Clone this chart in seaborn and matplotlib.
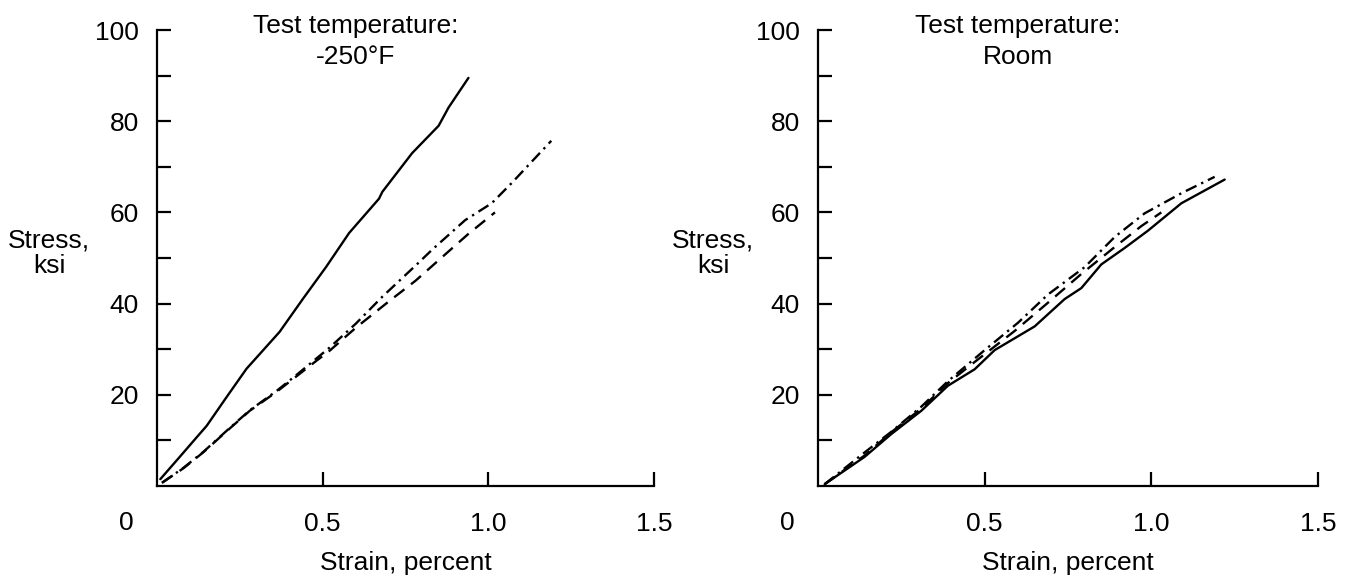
import matplotlib
matplotlib.use("Agg")
import matplotlib.pyplot as plt
import seaborn as sns

# stress-strain curves (strain in percent, stress in ksi)
cold_solid_strain = [0.01, 0.07, 0.12, 0.15, 0.21, 0.27, 0.37, 0.44, 0.51, 0.58, 0.67, 0.68, 0.77, 0.85, 0.88, 0.94]
cold_solid_stress = [1.5, 6.5, 10.7, 13.2, 19.5, 25.7, 33.8, 41.0, 48.0, 55.5, 63.0, 64.5, 73.0, 79.0, 83.0, 89.5]

cold_dash_strain = [0.015, 0.08, 0.14, 0.21, 0.28, 0.36, 0.42, 0.48, 0.52, 0.60, 0.70, 0.78, 0.87, 0.94, 1.02]
cold_dash_stress = [0.7, 3.9, 7.4, 12.0, 16.5, 20.6, 24.0, 27.4, 29.6, 34.7, 40.5, 45.0, 50.8, 55.3, 60.0]

cold_dashdot_strain = [0.015, 0.08, 0.14, 0.21, 0.28, 0.36, 0.42, 0.48, 0.52, 0.60, 0.68, 0.79, 0.83, 0.93, 1.01, 1.07, 1.19]
cold_dashdot_stress = [0.7, 4.0, 7.5, 12.1, 16.6, 20.8, 24.3, 27.9, 30.3, 35.6, 41.5, 49.0, 51.8, 58.3, 62.0, 66.4, 75.7]

room_solid_strain = [0.02, 0.14, 0.22, 0.31, 0.39, 0.47, 0.53, 0.59, 0.65, 0.74, 0.79, 0.85, 0.92, 0.99, 1.09, 1.22]
room_solid_stress = [0.4, 6.4, 11.4, 16.5, 22.0, 25.6, 29.8, 32.4, 35.0, 41.0, 43.4, 48.6, 52.2, 56.0, 62.0, 67.2]

room_dash_strain = [0.02, 0.14, 0.22, 0.31, 0.39, 0.47, 0.59, 0.69, 0.79, 0.89, 0.97, 1.03]
room_dash_stress = [0.4, 6.7, 11.8, 17.0, 22.6, 27.2, 34.0, 40.2, 46.5, 52.4, 57.0, 60.0]

room_dashdot_strain = [0.02, 0.13, 0.22, 0.31, 0.39, 0.50, 0.60, 0.69, 0.80, 0.89, 0.98, 1.09, 1.19]
room_dashdot_stress = [0.4, 6.8, 11.9, 17.4, 23.0, 29.8, 35.8, 42.0, 48.0, 54.6, 59.8, 64.2, 67.8]

titles = ["Test temperature:\n-250\u00b0F", "Test temperature:\nRoom"]
x_ticks = [0.5, 1.0, 1.5]
x_tick_labels = ["0.5", "1.0", "1.5"]
y_major = [20, 40, 60, 80, 100]
y_minor = [10, 30, 50, 70, 90]

SOLID = "-"
DASHED = (0, (5.5, 3.5))
DASHDOT = (0, (5, 2.2, 1, 2.2))

sns.set_style("ticks")
plt.rcParams['font.family'] = ['Liberation Sans', 'DejaVu Sans']
for key in ["text.color", "axes.labelcolor", "xtick.color", "ytick.color", "axes.edgecolor"]:
    plt.rcParams[key] = "black"
FS = 19

W, H = 1349, 578
fig = plt.figure(figsize=(W / 100, H / 100), dpi=100)
ax1 = fig.add_axes([157 / W, 1 - 486 / H, (654 - 157) / W, (486 - 30) / H])
ax2 = fig.add_axes([818 / W, 1 - 486 / H, (1318 - 818) / W, (486 - 30) / H])


def panel(ax, curves, title, ylab_x):
    for x, y, ls in curves:
        sns.lineplot(x=x, y=y, ax=ax, color="black", lw=1.7, linestyle=ls,
                     sort=False, estimator=None)
    ax.set_xlim(0, 1.5)
    ax.set_ylim(0, 100)
    sns.despine(ax=ax)
    for s in ["left", "bottom"]:
        ax.spines[s].set_linewidth(1.6)
        ax.spines[s].set_color("black")

    ax.set_xticks(x_ticks)
    ax.set_xticklabels(x_tick_labels)
    ax.set_yticks(y_major)
    ax.set_yticklabels([str(v) for v in y_major])
    ax.set_yticks(y_minor, minor=True)
    ax.tick_params(which="both", direction="in", length=10, width=1.6, labelsize=FS,
                   color="black", labelcolor="black")
    ax.tick_params(axis="y", pad=13)
    ax.tick_params(axis="x", pad=19)

    ax.annotate("0", xy=(0, 0), xycoords="axes fraction", xytext=(-31, -37),
                textcoords="offset pixels", ha="center", va="center", fontsize=FS)

    ax.text(0.6, 97.5, title, ha="center", va="center", fontsize=FS, linespacing=1.35)

    ax.set_xlabel("Strain, percent", fontsize=FS, va="center")
    ax.xaxis.set_label_coords(0.5, -77 / 456)
    ax.set_ylabel("Stress,\nksi", fontsize=FS, rotation=0, ha="center", va="center",
                  linespacing=1.05)
    ax.yaxis.set_label_coords(ylab_x, 0.51)


panel(ax1, [(cold_solid_strain, cold_solid_stress, SOLID),
            (cold_dash_strain, cold_dash_stress, DASHED),
            (cold_dashdot_strain, cold_dashdot_stress, DASHDOT)],
      titles[0], -108 / 497)
panel(ax2, [(room_solid_strain, room_solid_stress, SOLID),
            (room_dash_strain, room_dash_stress, DASHED),
            (room_dashdot_strain, room_dashdot_stress, DASHDOT)],
      titles[1], -105 / 500)

fig.savefig("out.png", dpi=100)
